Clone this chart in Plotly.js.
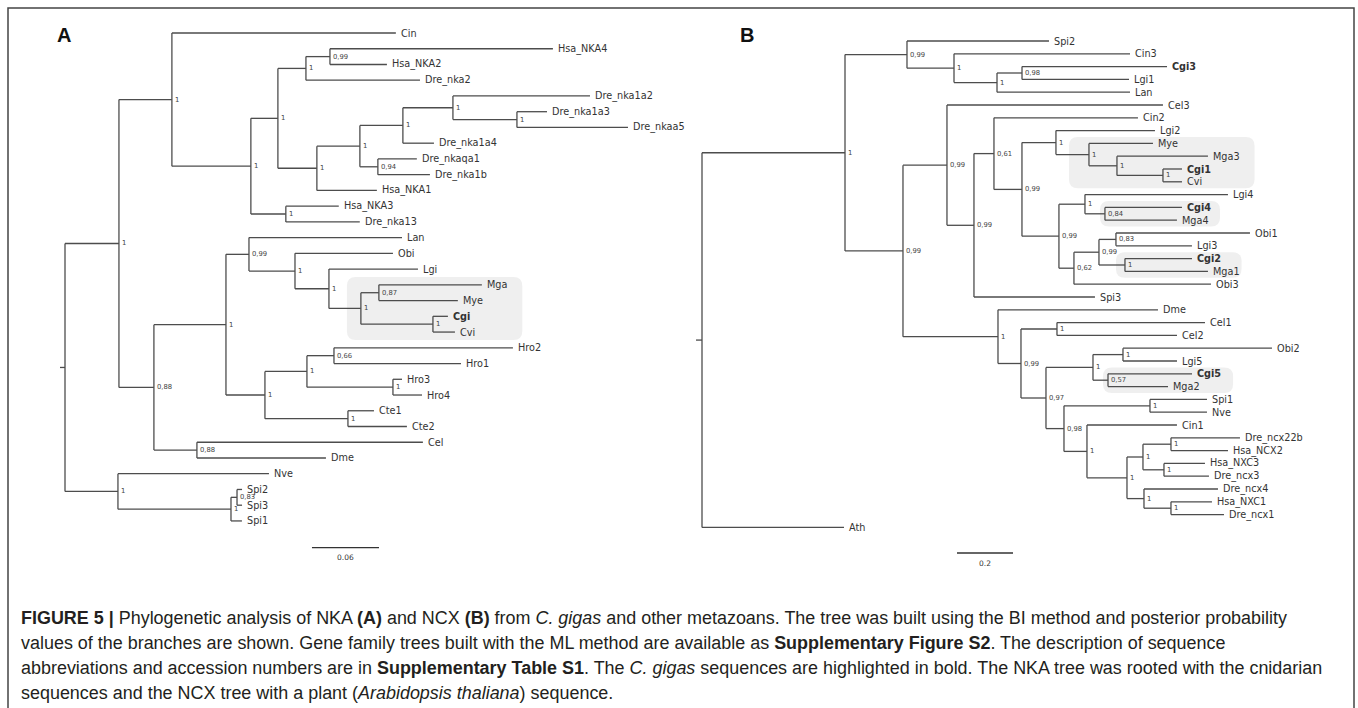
<!DOCTYPE html>
<html><head><meta charset="utf-8">
<script src="https://cdn.plot.ly/plotly-3.0.1.min.js"></script>
<style>html,body{margin:0;padding:0;background:#fff;}#chart{width:1358px;height:708px;}</style>
</head><body><div id="chart"></div>
<script>
// ---------------- Tree A (NKA) ----------------
const A_id = ['root','n1','nA','Cin','nB','nC','nD','nE','Hsa_NKA4','Hsa_NKA2','Dre_nka2','nF','nG','nH','nI','Dre_nka1a2','nJ','Dre_nka1a3','Dre_nkaa5','Dre_nka1a4','nK','Dre_nkaqa1','Dre_nka1b','Hsa_NKA1','nL','Hsa_NKA3','Dre_nka13','nM','nN','nO','Lan','nP','Obi','nQ','Lgi','nR','nS','Mga','Mye','nT','Cgi','Cvi','nU','nV','nW','Hro2','Hro1','nX','Hro3','Hro4','nY','Cte1','Cte2','nZ','Cel','Dme','nNS','Nve','nSp','nSp2','Spi2','Spi3','Spi1'];
const A_parent = ['','root','n1','nA','nA','nB','nC','nD','nE','nE','nD','nC','nF','nG','nH','nI','nI','nJ','nJ','nH','nG','nK','nK','nF','nB','nL','nL','n1','nM','nN','nO','nO','nP','nP','nQ','nQ','nR','nS','nS','nR','nT','nT','nN','nU','nV','nW','nW','nV','nX','nX','nU','nY','nY','nM','nZ','nZ','root','nNS','nNS','nSp','nSp2','nSp2','nSp'];
const A_length = [0.0045,0.0483,0.0474,0.2005,0.0707,0.0242,0.0251,0.0215,0.1996,0.0510,0.1021,0.0349,0.0385,0.0385,0.0448,0.1227,0.0573,0.0269,0.0994,0.0278,0.0161,0.0349,0.0466,0.0537,0.0313,0.0474,0.0662,0.0313,0.0645,0.0206,0.1370,0.0412,0.0877,0.0304,0.0797,0.0286,0.0161,0.0922,0.0707,0.0645,0.0134,0.0197,0.0349,0.0376,0.0242,0.1602,0.1137,0.0770,0.0081,0.0260,0.0743,0.0233,0.0528,0.0385,0.2023,0.1155,0.0474,0.1352,0.1012,0.0054,0.0045,0.0045,0.0098];
const A_support = ['','1','1','','1','1','1','0,99','','','','1','1','1','1','','1','','','','0,94','','','','1','','','0,88','1','0,99','','1','','1','','1','0,87','','','1','','','1','1','0,66','','','1','','','1','','','0,88','','','1','','1','0,83','','',''];
const A_bold = ['Cgi'];
const A_highlight = ['nR'];
const A_scale = 0.06;

// ---------------- Tree B (NCX) ----------------
const B_id = ['root','b1','b2','Spi2','b3','Cin3','b4','b5','Cgi3','Lgi1','Lan','b6','b7','Cel3','b8','b9','Cin2','b10','b11','Lgi2','b12','Mye','b13','Mga3','b14','Cgi1','Cvi','b15','b16','Lgi4','b17','Cgi4','Mga4','b18','b19','b20','Obi1','Lgi3','b21','Cgi2','Mga1','Obi3','Spi3','b22','Dme','b23','b24','Cel1','Cel2','b25','b26','b27','Obi2','Lgi5','b28','Cgi5','Mga2','b29','b30','Spi1','Nve','b31','Cin1','b32','b33','b34','Dre_ncx22b','Hsa_NCX2','b35','Hsa_NXC3','Dre_ncx3','b36','Dre_ncx4','b37','Hsa_NXC1','Dre_ncx1','Ath'];
const B_parent = ['','root','b1','b2','b2','b3','b3','b4','b5','b5','b4','b1','b6','b7','b7','b8','b9','b9','b10','b11','b11','b12','b12','b13','b13','b14','b14','b10','b15','b16','b16','b17','b17','b15','b18','b19','b20','b20','b19','b21','b21','b18','b8','b6','b22','b22','b23','b24','b24','b23','b25','b26','b27','b27','b26','b28','b28','b25','b29','b30','b30','b29','b31','b31','b32','b33','b34','b34','b33','b35','b35','b32','b36','b36','b37','b37','root'];
const B_length = [0.0214,0.5107,0.2214,0.5071,0.1679,0.6286,0.1536,0.0893,0.5179,0.3821,0.4750,0.2071,0.1571,0.7714,0.0964,0.0714,0.5143,0.1000,0.1214,0.3536,0.1179,0.2286,0.1000,0.3250,0.1643,0.0679,0.0679,0.1321,0.0929,0.5107,0.0714,0.2750,0.2571,0.0536,0.0893,0.0607,0.4786,0.2714,0.0929,0.2393,0.2964,0.4893,0.4321,0.3393,0.5714,0.0821,0.1286,0.5286,0.4286,0.0893,0.1679,0.1071,0.5321,0.1929,0.0536,0.3000,0.2143,0.0643,0.3071,0.2036,0.2036,0.0821,0.3214,0.1429,0.0571,0.1000,0.2464,0.2036,0.0750,0.1464,0.1607,0.0607,0.2643,0.0964,0.1464,0.1893,0.5071];
const B_support = ['','1','0,99','','1','','1','0,98','','','','0,99','0,99','','0,99','0,61','','0,99','1','','1','','1','','1','','','0,99','1','','0,84','','','0,62','0,99','0,83','','','1','','','','','1','','0,99','1','','','0,97','1','1','','','0,57','','','0,98','1','','','1','','1','1','1','','','1','','','1','','1','','',''];
const B_bold = ['Cgi1','Cgi2','Cgi3','Cgi4','Cgi5'];
const B_highlight = ['b12','b17','b21','b28'];
const B_scale = 0.2;

// ---------------- Caption ----------------
const captionLines = [
 '<b>FIGURE 5 |</b> Phylogenetic analysis of NKA <b>(A)</b> and NCX <b>(B)</b> from <i>C. gigas</i> and other metazoans. The tree was built using the BI method and posterior probability',
 'values of the branches are shown. Gene family trees built with the ML method are available as <b>Supplementary Figure S2</b>. The description of sequence',
 'abbreviations and accession numbers are in <b>Supplementary Table S1</b>. The <i>C. gigas</i> sequences are highlighted in bold. The NKA tree was rooted with the cnidarian',
 'sequences and the NCX tree with a plant (<i>Arabidopsis thaliana</i>) sequence.'
];
const panelLetters = ['A','B'];

// ---------------- Styles / layout ----------------
const W = 1358, H = 708;
const viewA = {pxLeft:0, pxRight:679, originPx:65, pxPerUnit:1117, rowTopPx:33, rowPx:15.74,
  hlPad:[[14,16]], scaleX0:0.2211, scaleRow:32.7, scaleLabelDy:0.6};
const viewB = {pxLeft:679, pxRight:1358, originPx:702, pxPerUnit:280, rowTopPx:41, rowPx:12.8,
  hlPad:[[20,16],[5,10],[9,3],[5,13]], scaleX0:0.9107, scaleRow:40.0, scaleLabelDy:0.8};
const LINE = '#4d4d4d', LEAF_FONT = 9.7, SUP_FONT = 6.8, FONT = 'DejaVu Sans';
const LEAF_OFF = 4;

const cv = document.createElement('canvas').getContext('2d');
function textW(t, size, bold){ cv.font = (bold?'bold ':'') + size + 'px "' + FONT + '"'; return cv.measureText(t).width; }
function htmlW(html, size, family){
  let b=false, it=false, w=0;
  html.split(/(<[^>]+>)/).forEach(p=>{
    if(!p) return;
    if(p[0]==='<'){ const c=p.replace(/[<>\/]/g,''); const on=p[1]!=='/'; if(c==='b') b=on; if(c==='i') it=on; return; }
    cv.font = (it?'italic ':'') + (b?'bold ':'') + size + 'px "' + family + '"';
    w += cv.measureText(p).width;
  });
  return w;
}

function buildTree(ids, parents, lens){
  const idx = {}; ids.forEach((d,i)=>idx[d]=i);
  const children = ids.map(()=>[]); let root = -1;
  parents.forEach((p,i)=>{ if(p==='') root=i; else children[idx[p]].push(i); });
  const depth = [], row = []; let lc = 0;
  (function walk(i,d){
    depth[i]=d;
    if(!children[i].length){ row[i]=lc++; return; }
    children[i].forEach(c=>walk(c,d+lens[c]));
    const cs=children[i]; row[i]=(row[cs[0]]+row[cs[cs.length-1]])/2;
  })(root,0);
  return {idx,children,root,depth,row};
}
function leavesOf(t,i){ if(!t.children[i].length) return [i]; return t.children[i].flatMap(c=>leavesOf(t,c)); }

const traces = [], annotations = [], shapes = [];
function drawTree(ids, parents, lens, sup, bold, hl, scaleLen, view, xa, ya){
  const t = buildTree(ids, parents, lens);
  const xs = [], ys = [];
  const seg = (x0,y0,x1,y1)=>{ xs.push(x0,x1,null); ys.push(y0,y1,null); };
  ids.forEach((id,i)=>{
    const px = i===t.root ? -lens[i] : t.depth[t.idx[parents[i]]];
    seg(px, t.row[i], t.depth[i], t.row[i]);
    const cs = t.children[i];
    if(cs.length){
      seg(t.depth[i], t.row[cs[0]], t.depth[i], t.row[cs[cs.length-1]]);
      if(sup[i]) annotations.push({xref:xa, yref:ya, x:t.depth[i], y:t.row[i], text:sup[i], showarrow:false,
        xanchor:'left', yanchor:'middle', xshift:2, borderpad:0, font:{family:FONT, size:SUP_FONT, color:'#444'}});
    } else {
      const b = bold.includes(id);
      annotations.push({xref:xa, yref:ya, x:t.depth[i], y:t.row[i], text: b?'<b>'+id+'</b>':id, showarrow:false,
        xanchor:'left', yanchor:'middle', xshift:LEAF_OFF, borderpad:0, font:{family:FONT, size:LEAF_FONT, color:'#333'}});
    }
  });
  traces.push({type:'scatter', mode:'lines', x:xs, y:ys, xaxis:xa, yaxis:ya, hoverinfo:'skip', showlegend:false,
    line:{color:LINE, width:1.3}});
  hl.forEach((nid,k)=>{
    const ni = t.idx[nid], lv = leavesOf(t,ni);
    const u = 1/view.pxPerUnit;
    const x0 = t.depth[ni] - view.hlPad[k][0]*u;
    let x1 = -1e9;
    lv.forEach(l=>{ x1 = Math.max(x1, t.depth[l] + (LEAF_OFF + textW(ids[l], LEAF_FONT, bold.includes(ids[l])))*u); });
    x1 += view.hlPad[k][1]*u;
    const y0 = t.row[lv[0]]-0.5, y1 = t.row[lv[lv.length-1]]+0.5;
    const rx = 9*u, ry = 9/view.rowPx;
    shapes.push({type:'path', xref:xa, yref:ya, layer:'below', fillcolor:'#efefef', line:{width:0},
      path:`M ${x0+rx},${y0} L ${x1-rx},${y0} Q ${x1},${y0} ${x1},${y0+ry} L ${x1},${y1-ry} Q ${x1},${y1} ${x1-rx},${y1} L ${x0+rx},${y1} Q ${x0},${y1} ${x0},${y1-ry} L ${x0},${y0+ry} Q ${x0},${y0} ${x0+rx},${y0} Z`});
  });
  traces.push({type:'scatter', mode:'lines', x:[view.scaleX0, view.scaleX0+scaleLen], y:[view.scaleRow, view.scaleRow],
    xaxis:xa, yaxis:ya, hoverinfo:'skip', showlegend:false, line:{color:'#333', width:1.3}});
  annotations.push({xref:xa, yref:ya, x:view.scaleX0+scaleLen/2, y:view.scaleRow+view.scaleLabelDy, text:String(scaleLen),
    showarrow:false, xanchor:'center', yanchor:'middle', font:{family:FONT, size:7.5, color:'#333'}});
}
function axes(view){
  return [
    {domain:[view.pxLeft/W, view.pxRight/W], range:[(view.pxLeft-view.originPx)/view.pxPerUnit,(view.pxRight-view.originPx)/view.pxPerUnit], visible:false, fixedrange:true},
    {domain:[0,1], range:[(H-view.rowTopPx)/view.rowPx, -view.rowTopPx/view.rowPx], visible:false, fixedrange:true}
  ];
}
drawTree(A_id, A_parent, A_length, A_support, A_bold, A_highlight, A_scale, viewA, 'x', 'y');
drawTree(B_id, B_parent, B_length, B_support, B_bold, B_highlight, B_scale, viewB, 'x2', 'y2');
const [xA,yA] = axes(viewA), [xB,yB] = axes(viewB);
xB.anchor='y2'; yB.anchor='x2'; xA.anchor='y'; yA.anchor='x';

[[64,35],[747,35]].forEach((p,k)=>annotations.push({xref:'paper', yref:'paper', x:p[0]/W, y:1-p[1]/H, text:'<b>'+panelLetters[k]+'</b>',
  showarrow:false, xanchor:'center', yanchor:'middle', font:{family:'Liberation Sans', size:20, color:'#111'}}));

const capY = [618, 643, 668, 693];
const capFont = 'Liberation Sans';
const capSize = 20 * 1268 / htmlW(captionLines[0], 20, capFont);
captionLines.forEach((l,k)=>annotations.push({xref:'paper', yref:'paper', x:20/W, y:1-capY[k]/H, text:l, showarrow:false,
  xanchor:'left', yanchor:'middle', borderpad:0, font:{family:capFont, size:capSize, color:'#231f20'}}));

shapes.push({type:'rect', xref:'paper', yref:'paper', x0:8/W, x1:1354/W, y0:-0.1, y1:1-8/H, line:{color:'#444', width:1.5}, fillcolor:'rgba(0,0,0,0)'});

Plotly.newPlot('chart', traces, {
  width:W, height:H, margin:{l:0,r:0,t:0,b:0}, paper_bgcolor:'#fff', plot_bgcolor:'rgba(0,0,0,0)',
  xaxis:xA, yaxis:yA, xaxis2:xB, yaxis2:yB, annotations, shapes, showlegend:false
}, {displayModeBar:false, staticPlot:true});
</script></body></html>
